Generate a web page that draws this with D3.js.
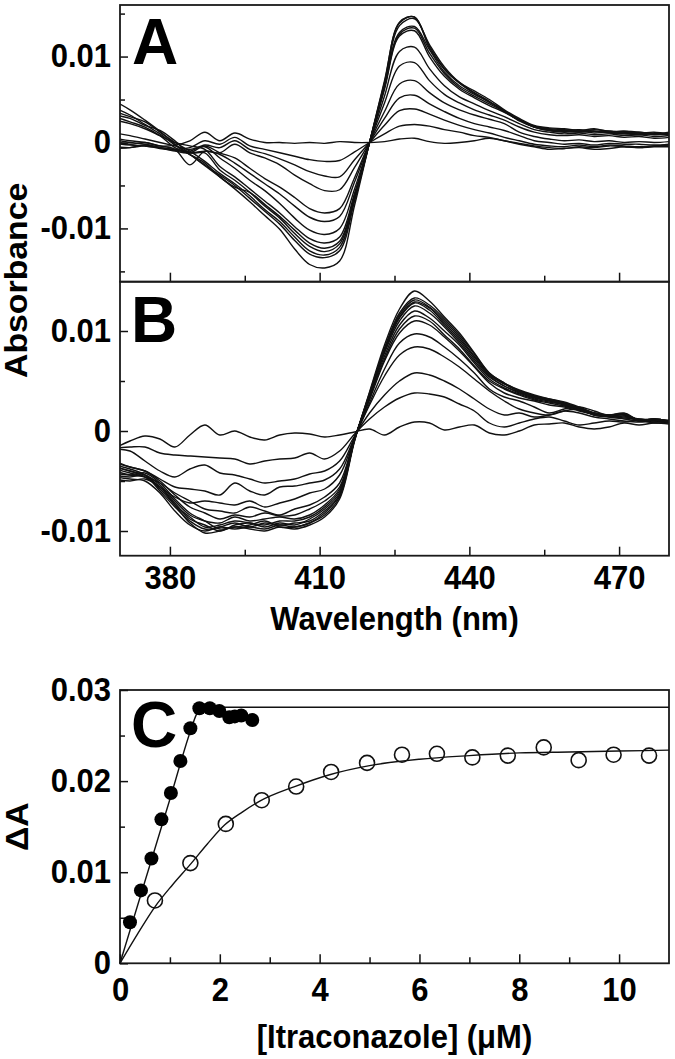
<!DOCTYPE html>
<html>
<head>
<meta charset="utf-8">
<script src="https://cdn.jsdelivr.net/npm/d3@7"></script>
<style>
  html, body { margin: 0; padding: 0; background: #fff; }
  svg { display: block; }
  text { font-family: "Liberation Sans", Arial, sans-serif; font-weight: bold; fill: #000; }
  .tick text { font-size: 31px; }
  .tick line { stroke: #111; stroke-width: 1.5; }
  .title { font-size: 31px; }
  .panel-letter { font-size: 64px; }
</style>
</head>
<body>
<svg id="fig" width="675" height="1059"></svg>
<script>
// ---- data ----
// wavelength grid for the difference spectra, nm
const WAVELENGTHS = [369, 372, 375, 378, 381, 384, 387, 390, 393, 396, 399, 402, 405, 408, 411, 414, 417, 420, 423, 426,
                     429, 432, 435, 438, 441, 444, 447, 450, 453, 456, 459, 462, 465, 468, 471, 474, 477, 480];
// absorbance values below are in units of 1e-4
const ABS_UNIT = 1e-4;

// panel A: one row per titration step
const SPECTRA_A = [
  [1, -2, 0, -4, -3, 2, 12, 2, 11, 4, 0, 0, -1, 0, -1, 1, 0, 0, 1, 4, 5, 1, -1, 0, 2, 5, 2, -2, -5, -8, -7, -6, -8, -7, -5, -6, -5, -5],
  [-7, -6, -3, -6, -8, -6, 2, -2, 6, -4, -8, -12, -16, -20, -22, -21, -11, 0, 10, 19, 21, 19, 15, 12, 8, 6, 2, -1, -4, -6, -7, -5, -6, -4, -5, -6, -4, -4],
  [-5, -6, -4, -7, -9, -10, -3, -6, 2, -8, -13, -19, -26, -34, -39, -40, -20, 0, 20, 37, 39, 33, 26, 20, 15, 11, 6, 2, -2, -4, -5, -3, -5, -3, -4, -5, -4, -3],
  [-1, -3, -4, -6, -8, -12, -10, -12, -2, -12, -18, -26, -38, -48, -56, -55, -29, 0, 28, 52, 55, 45, 36, 28, 22, 18, 14, 8, 2, 0, -2, -1, -3, -1, -2, -2, -3, -2],
  [3, 0, -2, -6, -10, -12, -4, -12, -18, -30, -42, -52, -64, -77, -82, -77, -41, 0, 36, 68, 72, 58, 46, 38, 32, 27, 22, 12, 7, 4, 2, 3, 1, 2, 0, 1, 0, 1],
  [5, 2, 0, -4, -8, -26, -10, -14, -24, -36, -48, -60, -74, -87, -92, -86, -46, 0, 46, 89, 93, 72, 56, 46, 38, 32, 26, 18, 12, 9, 8, 9, 7, 8, 6, 7, 5, 6],
  [11, 8, 4, 0, -4, -8, -5, -18, -30, -44, -56, -71, -88, -102, -107, -100, -54, 0, 54, 106, 111, 86, 66, 53, 45, 37, 30, 22, 15, 12, 10, 11, 9, 10, 8, 9, 7, 8],
  [26, 22, 16, 8, 0, -4, -8, -28, -40, -54, -68, -82, -98, -112, -117, -110, -59, 0, 62, 124, 130, 100, 77, 62, 52, 43, 35, 26, 18, 14, 13, 12, 13, 11, 10, 11, 9, 10],
  [30, 24, 18, 8, -6, -14, -24, -40, -52, -58, -72, -86, -102, -117, -123, -115, -62, 0, 64, 126, 133, 104, 80, 64, 54, 45, 36, 27, 18, 14, 12, 13, 11, 12, 10, 9, 10, 8],
  [32, 28, 20, 14, 2, -12, -12, -32, -44, -58, -74, -88, -106, -121, -127, -118, -64, 0, 66, 128, 135, 108, 82, 66, 56, 47, 37, 26, 19, 15, 14, 15, 13, 12, 13, 11, 12, 10],
  [36, 30, 24, 12, 0, -10, -22, -36, -48, -62, -78, -92, -110, -126, -131, -122, -66, 0, 68, 136, 144, 114, 88, 70, 60, 50, 38, 28, 20, 17, 16, 14, 16, 13, 13, 12, 10, 12],
  [40, 32, 21, 10, -3, -14, -26, -38, -50, -65, -80, -95, -114, -130, -134, -126, -68, 0, 72, 139, 146, 112, 86, 70, 58, 48, 36, 26, 19, 16, 15, 13, 15, 13, 12, 10, 11, 9],
  [48, 38, 26, 13, -2, -14, -27, -40, -54, -69, -85, -101, -124, -142, -146, -138, -73, 0, 70, 140, 146, 110, 85, 69, 57, 47, 37, 25, 18, 15, 13, 14, 13, 13, 11, 12, 10, 10]
];

// panel B: one row per titration step
const SPECTRA_B = [
  [-17, -10, -5, -8, -16, -4, 6, -4, 0, -6, -9, -4, -2, -3, -6, -4, -1, 2, -4, 4, 9, 8, 1, 4, 6, -2, -4, 0, 6, 7, 8, 4, 2, 4, 8, 6, 8, 7],
  [-17, -16, -16, -22, -24, -25, -26, -27, -28, -33, -30, -28, -27, -22, -28, -20, -3, 12, 24, 33, 38, 37, 34, 27, 20, 8, 4, 8, 12, 14, 10, 6, 8, 10, 9, 11, 8, 9],
  [-18, -20, -30, -40, -46, -38, -34, -42, -44, -48, -52, -50, -48, -43, -40, -30, -5, 18, 36, 50, 58, 56, 50, 42, 32, 22, 16, 18, 14, 16, 20, 18, 14, 12, 10, 9, 10, 8],
  [-32, -36, -40, -48, -56, -58, -60, -64, -52, -60, -64, -56, -55, -52, -49, -38, -6, 26, 55, 76, 84, 82, 74, 64, 52, 40, 30, 22, 18, 16, 20, 22, 18, 14, 12, 10, 9, 10],
  [-36, -40, -44, -56, -66, -72, -70, -72, -74, -70, -76, -72, -68, -62, -58, -44, -7, 28, 62, 88, 97, 94, 84, 72, 58, 42, 34, 30, 24, 18, 22, 24, 20, 15, 13, 12, 10, 11],
  [-40, -44, -46, -52, -62, -70, -78, -80, -82, -76, -80, -84, -78, -74, -66, -52, -7, 31, 70, 98, 110, 106, 94, 80, 64, 48, 38, 33, 30, 26, 24, 20, 17, 15, 14, 12, 11, 10],
  [-30, -36, -40, -50, -64, -76, -82, -88, -84, -86, -82, -85, -84, -78, -70, -56, -7, 33, 72, 102, 115, 110, 96, 82, 65, 50, 42, 36, 31, 28, 25, 21, 16, 14, 15, 10, 11, 9],
  [-44, -46, -44, -54, -70, -84, -90, -92, -86, -90, -88, -86, -88, -84, -74, -58, -8, 34, 75, 106, 120, 113, 100, 86, 68, 52, 43, 37, 32, 29, 26, 21, 17, 15, 16, 11, 12, 10],
  [-38, -42, -46, -58, -74, -86, -96, -94, -90, -92, -94, -90, -90, -86, -76, -60, -8, 35, 78, 110, 125, 118, 104, 88, 70, 54, 45, 38, 33, 30, 26, 22, 16, 15, 16, 10, 11, 9],
  [-48, -50, -48, -56, -72, -88, -94, -100, -94, -92, -96, -92, -94, -88, -78, -62, -8, 36, 80, 113, 128, 121, 106, 90, 72, 55, 45, 39, 34, 31, 27, 22, 17, 16, 17, 11, 12, 10],
  [-34, -38, -44, -60, -76, -90, -98, -96, -92, -96, -92, -94, -92, -90, -80, -64, -9, 36, 81, 114, 129, 123, 108, 92, 74, 56, 47, 40, 35, 31, 28, 23, 17, 15, 17, 10, 11, 9],
  [-42, -44, -42, -52, -68, -82, -90, -98, -96, -94, -90, -96, -96, -92, -82, -64, -9, 37, 82, 116, 131, 124, 110, 94, 75, 57, 47, 40, 35, 32, 28, 23, 18, 16, 17, 11, 12, 10],
  [-46, -48, -50, -62, -80, -94, -100, -96, -98, -96, -98, -94, -96, -92, -84, -66, -9, 38, 83, 118, 133, 126, 112, 96, 77, 58, 48, 41, 36, 32, 29, 24, 18, 16, 18, 11, 12, 10],
  [-36, -40, -46, -56, -74, -92, -102, -100, -96, -98, -100, -96, -98, -94, -86, -68, -10, 39, 86, 122, 140, 130, 114, 98, 78, 58, 48, 40, 34, 31, 27, 22, 16, 15, 17, 10, 11, 9]
];

// panel C: titration points and fitted curves
const FILLED_X = [0.20, 0.42, 0.63, 0.83, 1.02, 1.21, 1.41, 1.59, 1.80, 1.99, 2.19, 2.30, 2.43, 2.65];
const FILLED_Y = [0.0045, 0.0080, 0.0115, 0.0158, 0.0187, 0.0222, 0.0258, 0.0280, 0.0280, 0.0277, 0.0270, 0.0271, 0.0272, 0.0267];
const OPEN_X = [0.70, 1.41, 2.12, 2.84, 3.53, 4.23, 4.95, 5.65, 6.35, 7.06, 7.77, 8.49, 9.19, 9.89, 10.60];
const OPEN_Y = [0.0069, 0.0110, 0.0153, 0.0179, 0.0194, 0.0210, 0.0220, 0.0229, 0.0230, 0.0226, 0.0228, 0.0237, 0.0223, 0.0229, 0.0228];
const FIT_FILLED_X = [0, 0.5, 1.0, 1.43, 1.53, 1.60, 1.68, 2.0, 11];
const FIT_FILLED_Y = [0, 0.0090, 0.0180, 0.0258, 0.0273, 0.0279, 0.0281, 0.0281, 0.0281];
const FIT_OPEN_X = [0, 0.35, 0.7, 1.05, 1.4, 1.75, 2.1, 2.45, 2.8, 3.5, 4.2, 5, 6, 7, 8, 9, 10, 11];
const FIT_OPEN_Y = [0, 0.0032, 0.0062, 0.0086, 0.0108, 0.0131, 0.0152, 0.0166, 0.0178, 0.0194, 0.0207, 0.0217, 0.0224, 0.0228, 0.0231, 0.0232, 0.0233, 0.0234];

// ticks
const WL_TICKS = [380, 410, 440, 470];
const WL_MINOR = [395, 425, 455];
const ABS_TICKS = [-0.01, 0, 0.01];
const ABS_MINOR_A = [-0.015, -0.005, 0.005, 0.015];
const ABS_MINOR_B = [-0.005, 0.005];
const CONC_TICKS = [0, 2, 4, 6, 8, 10];
const CONC_MINOR = [1, 3, 5, 7, 9];
const DA_TICKS = [0, 0.01, 0.02, 0.03];
const DA_MINOR = [0.005, 0.015, 0.025];

// ---- layout ----
const L = 120, R = 669;
const A_TOP = 5, A_BOT = 281.7;
const B_TOP = 281.7, B_BOT = 555.7;
const C_TOP = 690, C_BOT = 963.3;
const STRETCH = 1.09;   // the original lettering is a bit taller than it is wide

const svg = d3.select("#fig");
const fmt = d => String(d);

const xWl = d3.scaleLinear().domain([370, 480]).range([L, R]);
const yA = d3.scaleLinear().domain([-0.0162, 0.0160]).range([A_BOT, A_TOP]);
const yB = d3.scaleLinear().domain([-0.01247, 0.01493]).range([B_BOT, B_TOP]);
const xC = d3.scaleLinear().domain([0, 11]).range([L, R]);
const yC = d3.scaleLinear().domain([0, 0.03]).range([C_BOT, C_TOP]);

function leftAxis(scale, major, minor) {
  const g = svg.append("g").attr("transform", `translate(${L},0)`);
  g.call(d3.axisLeft(scale).tickValues(major).tickSizeInner(-8).tickSizeOuter(0)
      .tickPadding(9).tickFormat(fmt));
  g.select(".domain").remove();
  g.selectAll(".tick text").attr("transform", `scale(1,${STRETCH})`).attr("dy", "0.30em");
  const m = svg.append("g").attr("transform", `translate(${L},0)`);
  m.call(d3.axisLeft(scale).tickValues(minor).tickSizeInner(-5).tickSizeOuter(0).tickFormat(""));
  m.select(".domain").remove();
}

function bottomAxis(scale, y0, major, minor, labels, pad) {
  const g = svg.append("g").attr("transform", `translate(0,${y0})`);
  g.call(d3.axisBottom(scale).tickValues(major).tickSizeInner(-9).tickSizeOuter(0)
      .tickPadding(pad).tickFormat(labels ? fmt : ""));
  g.select(".domain").remove();
  g.selectAll(".tick text").attr("transform", `scale(1,${STRETCH})`);
  const m = svg.append("g").attr("transform", `translate(0,${y0})`);
  m.call(d3.axisBottom(scale).tickValues(minor).tickSizeInner(-6).tickSizeOuter(0).tickFormat(""));
  m.select(".domain").remove();
}

function hText(x, y, str, cls, anchor) {
  return svg.append("text").attr("class", cls)
    .attr("transform", `translate(${x},${y}) scale(1,${STRETCH})`)
    .attr("text-anchor", anchor || "start").text(str);
}

function vText(x, y, str) {
  return svg.append("text").attr("class", "title")
    .attr("transform", `translate(${x},${y}) rotate(-90) scale(${STRETCH},1)`)
    .attr("text-anchor", "middle").text(str);
}

function spectraPanel(id, spectra, y, top, bot) {
  svg.append("clipPath").attr("id", id)
    .append("rect").attr("x", L).attr("y", top).attr("width", R - L).attr("height", bot - top);
  const line = d3.line()
    .x((d, i) => xWl(WAVELENGTHS[i]))
    .y(d => y(d * ABS_UNIT))
    .curve(d3.curveCatmullRom.alpha(0.5));
  svg.append("g").attr("clip-path", `url(#${id})`)
    .selectAll("path").data(spectra).join("path")
    .attr("d", line)
    .attr("fill", "none")
    .attr("stroke", "#111")
    .attr("stroke-width", 1.4)
    .attr("stroke-linejoin", "round");
}

// panel A
spectraPanel("clipA", SPECTRA_A, yA, A_TOP, A_BOT);
leftAxis(yA, ABS_TICKS, ABS_MINOR_A);
bottomAxis(xWl, A_BOT, WL_TICKS, WL_MINOR, false, 8);

// panel B
spectraPanel("clipB", SPECTRA_B, yB, B_TOP, B_BOT);
leftAxis(yB, ABS_TICKS, ABS_MINOR_B);
bottomAxis(xWl, B_BOT, WL_TICKS, WL_MINOR, true, 9);

// frames
[[A_TOP, A_BOT], [B_TOP, B_BOT], [C_TOP, C_BOT]].forEach(([t, b]) => {
  svg.append("rect").attr("x", L).attr("y", t).attr("width", R - L).attr("height", b - t)
    .attr("fill", "none").attr("stroke", "#1a1a1a").attr("stroke-width", 1.8);
});

svg.append("text").attr("class", "panel-letter").attr("x", 132).attr("y", 64).text("A");
svg.append("text").attr("class", "panel-letter").attr("x", 131).attr("y", 342).text("B");

vText(27, (A_TOP + B_BOT) / 2, "Absorbance");
hText((L + R) / 2, 630, "Wavelength (nm)", "title", "middle");

// panel C
leftAxis(yC, DA_TICKS, DA_MINOR);
bottomAxis(xC, C_BOT, CONC_TICKS, CONC_MINOR, true, 13);

const fitLine = d3.line().x(d => xC(d[0])).y(d => yC(d[1])).curve(d3.curveMonotoneX);
const gC = svg.append("g");
gC.append("path").datum(d3.zip(FIT_FILLED_X, FIT_FILLED_Y)).attr("d", fitLine)
  .attr("fill", "none").attr("stroke", "#111").attr("stroke-width", 1.4);
gC.append("path").datum(d3.zip(FIT_OPEN_X, FIT_OPEN_Y)).attr("d", fitLine)
  .attr("fill", "none").attr("stroke", "#111").attr("stroke-width", 1.4);

gC.selectAll("circle.open").data(d3.zip(OPEN_X, OPEN_Y)).join("circle")
  .attr("class", "open")
  .attr("cx", d => xC(d[0])).attr("cy", d => yC(d[1])).attr("r", 7.5)
  .attr("fill", "none").attr("stroke", "#111").attr("stroke-width", 1.6);
gC.selectAll("circle.filled").data(d3.zip(FILLED_X, FILLED_Y)).join("circle")
  .attr("class", "filled")
  .attr("cx", d => xC(d[0])).attr("cy", d => yC(d[1])).attr("r", 7)
  .attr("fill", "#000");

svg.append("text").attr("class", "panel-letter").attr("x", 131).attr("y", 747).text("C");

vText(28, (C_TOP + C_BOT) / 2, "ΔA");
hText((L + R) / 2, 1048, "[Itraconazole] (μM)", "title", "middle");
</script>
</body>
</html>
